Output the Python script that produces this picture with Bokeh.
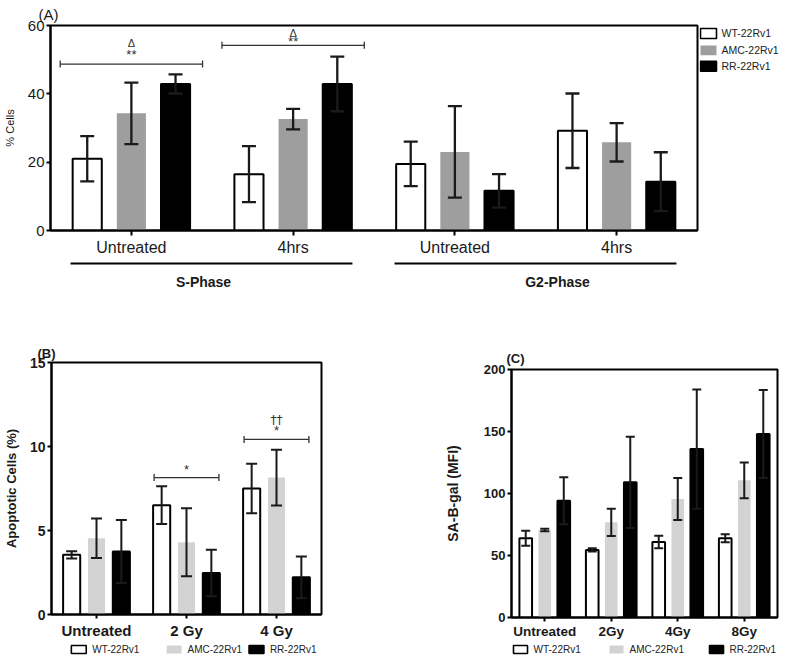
from bokeh.plotting import figure
from bokeh.layouts import column, row
from bokeh.models import (Range1d, FixedTicker, Title,
                          Whisker, TeeHead, ColumnDataSource)
from bokeh.core.properties import value
from bokeh.embed import file_html
from bokeh.resources import INLINE

FONT = "Liberation Sans"
INK = "#1a1a1a"

series_names = ["WT-22Rv1", "AMC-22Rv1", "RR-22Rv1"]

# ---------------- Panel A : cell cycle ----------------
a_categories = ["Untreated", "4hrs", "Untreated", "4hrs"]
a_phases = ["S-Phase", "G2-Phase"]
a_phase_first = [0, 2]
a_phase_last = [1, 3]
a_wt = [21.0, 16.5, 19.5, 29.2]
a_wt_err = [6.6, 8.2, 6.5, 10.9]
a_amc = [34.3, 32.6, 23.0, 25.8]
a_amc_err = [9.0, 3.0, 13.4, 5.6]
a_rr = [42.9, 42.9, 11.6, 14.3]
a_rr_err = [2.8, 8.0, 4.9, 8.6]
a_yticks = [0, 20, 40, 60]
a_sig_group = [0, 1]
a_sig_level = [48.7, 54.2]
a_star_level = [51.6, 55.4]
a_star_text = ["**", "**"]
a_delta_level = [54.8, 57.9]
a_delta_text = ["Δ", "Δ"]

# ---------------- Panel B : apoptosis ----------------
b_categories = ["Untreated", "2 Gy", "4 Gy"]
b_wt = [3.55, 6.51, 7.50]
b_wt_err = [0.22, 1.13, 1.47]
b_amc = [4.54, 4.30, 8.15]
b_amc_err = [1.17, 2.02, 1.66]
b_rr = [3.75, 2.47, 2.21]
b_rr_err = [1.87, 1.38, 1.24]
b_yticks = [0, 5, 10, 15]
b_sig_group = [1, 2]
b_sig_level = [8.15, 10.42]
b_star_level = [8.64, 10.97]
b_star_text = ["*", "*"]
b_dagger_group = [2]
b_dagger_level = [11.6]
b_dagger_text = ["††"]

# ---------------- Panel C : senescence ----------------
c_categories = ["Untreated", "2Gy", "4Gy", "8Gy"]
c_wt = [63.9, 54.5, 60.9, 63.9]
c_wt_err = [6.0, 1.3, 5.0, 3.2]
c_amc = [70.6, 76.8, 95.6, 110.6]
c_amc_err = [1.0, 11.0, 17.0, 14.5]
c_rr = [94.2, 109.0, 135.8, 147.9]
c_rr_err = [19.0, 36.8, 48.0, 35.5]
c_yticks = [0, 50, 100, 150, 200]

A_FILLS = ["white", "#9e9e9e", "black"]
BC_FILLS = ["white", "#d3d3d3", "black"]
LINES = ["black", None, "black"]

# layout (pixels)
A_W, A_H, A_L, A_R, A_T, A_B = 699, 258, 49, 2, 25, 27
KEY_W = 80
B_W, B_H, B_L, B_R, B_T, B_B = 400, 349, 49, 79, 70, 26
C_W, C_H, C_L, C_R, C_T, C_B = 379, 349, 111, 2, 77, 23
STRIP_H = 15


def base_fig(w, h, ncat, ymax, left, right, top, bottom):
    p = figure(width=w, height=h, output_backend="svg", toolbar_location=None,
               x_range=Range1d(-0.5, ncat - 0.5), y_range=Range1d(0, ymax),
               min_border_left=left, min_border_right=right,
               min_border_top=top, min_border_bottom=bottom)
    p.xgrid.visible = False
    p.ygrid.visible = False
    p.outline_line_color = "black"
    p.outline_line_width = 2
    p.outline_line_alpha = 1
    p.background_fill_color = "white"
    p.border_fill_color = "white"
    for ax in (p.xaxis[0], p.yaxis[0]):
        ax.axis_line_width = 2
        ax.axis_line_color = "black"
        ax.major_tick_line_width = 2
        ax.major_tick_line_color = "black"
        ax.major_tick_in = 0
        ax.minor_tick_line_color = None
        ax.major_label_text_font = FONT
        ax.major_label_text_color = INK
        ax.axis_label_text_font = FONT
        ax.axis_label_text_color = INK
        ax.axis_label_text_font_style = "normal"
    return p


def blank_strip(w, h, xr, yr, left=0, right=0):
    s = figure(width=w, height=h, output_backend="svg", toolbar_location=None,
               x_range=xr, y_range=yr,
               x_axis_location=None, y_axis_location=None,
               min_border_left=left, min_border_right=right,
               min_border_top=0, min_border_bottom=0)
    s.outline_line_color = None
    s.xgrid.visible = False
    s.ygrid.visible = False
    return s


def panel_title(p, text, size, offset, standoff, bold):
    p.add_layout(Title(text=text, align="left", offset=offset, standoff=standoff,
                       text_font=FONT, text_font_size=size, text_color=INK,
                       text_font_style="bold" if bold else "normal"), "above")


def add_bars(p, vals_list, errs_list, fills, lines, offset, width, cap, err_lw, bar_lw):
    for k, (vals, errs) in enumerate(zip(vals_list, errs_list)):
        xs = [g + (k - 1) * offset for g in range(len(vals))]
        src = ColumnDataSource(dict(x=xs, top=vals,
                                    upper=[v + e for v, e in zip(vals, errs)],
                                    lower=[v - e for v, e in zip(vals, errs)]))
        p.vbar(x="x", top="top", bottom=0, width=width, source=src,
               fill_color=fills[k], line_color=lines[k],
               line_width=bar_lw if lines[k] else 0)
        p.add_layout(Whisker(source=src, base="x", upper="upper", lower="lower",
                             line_width=err_lw, line_color=INK, level="overlay",
                             upper_head=TeeHead(size=cap, line_width=err_lw, line_color=INK),
                             lower_head=TeeHead(size=cap, line_width=err_lw, line_color=INK)))


def add_bracket(p, groups, levels, half, lw):
    src = ColumnDataSource(dict(y=levels, x0=[g - half for g in groups],
                                x1=[g + half for g in groups]))
    p.add_layout(Whisker(source=src, base="y", lower="x0", upper="x1",
                         dimension="width", line_width=lw, line_color="#333333",
                         level="overlay",
                         upper_head=TeeHead(size=7, line_width=lw, line_color="#333333"),
                         lower_head=TeeHead(size=7, line_width=lw, line_color="#333333")))


def add_marks(p, groups, levels, texts, size, font=FONT):
    p.text(x=groups, y=levels, text=texts, text_align="center",
           text_baseline="middle", text_font=value(font),
           text_font_size=size, text_color="#333333")


def draw_key(s, xs, ys, gw, gh, size, standoff, fills, lines):
    """legend swatches + series names; strip data units are pixels"""
    for name, fc, lc, x, y in zip(series_names, fills, lines, xs, ys):
        s.rect(x=[x + gw / 2], y=[y], width=gw, height=gh, fill_color=fc,
               line_color=lc, line_width=1.6 if lc else 0)
        s.text(x=[x + gw + standoff], y=[y], text=[name], text_align="left",
               text_baseline="middle", text_font=value(FONT), text_font_size=size,
               text_color="#222222")


# ================= Figure A =================
pA = base_fig(A_W, A_H, 4, 60, A_L, A_R, A_T, A_B)
add_bars(pA, [a_wt, a_amc, a_rr], [a_wt_err, a_amc_err, a_rr_err],
         A_FILLS, LINES, 0.273, 0.18, 14, 2.3, 2)
pA.yaxis[0].ticker = FixedTicker(ticks=a_yticks)
pA.xaxis[0].ticker = FixedTicker(ticks=list(range(len(a_categories))))
pA.xaxis[0].major_label_overrides = {i: c for i, c in enumerate(a_categories)}
pA.yaxis[0].major_label_text_font_size = "15px"
pA.xaxis[0].major_label_text_font_size = "16px"
pA.yaxis[0].major_tick_out = 4
pA.xaxis[0].major_tick_out = 5
pA.yaxis[0].major_label_standoff = 2
pA.xaxis[0].major_label_standoff = 3
pA.yaxis[0].axis_label = "% Cells"
pA.yaxis[0].axis_label_text_font_size = "11px"
pA.yaxis[0].axis_label_standoff = 9
add_bracket(pA, a_sig_group, a_sig_level, 0.44, 1.3)
add_marks(pA, a_sig_group, a_star_level, a_star_text, "13px")
add_marks(pA, a_sig_group, a_delta_level, a_delta_text, "11px")
panel_title(pA, "(A)", "15px", -12, 6, False)

# key for panel A, right of the frame (its frame shares panel A's vertical extent)
kA = blank_strip(KEY_W, A_H, Range1d(0, KEY_W), Range1d(A_H - A_B, A_T))
draw_key(kA, [1, 1, 1], [33, 50, 66], 16, 10, "10.5px", 5, A_FILLS, LINES)

# strip with phase groupings under panel A
sA = blank_strip(A_W, 34, pA.x_range, Range1d(0, 34), left=A_L, right=A_R)
sA.segment(x0=[f - 0.37 for f in a_phase_first], x1=[l + 0.37 for l in a_phase_last],
           y0=[29, 29], y1=[29, 29], line_width=2, line_color="black")
sA.text(x=[(f + l) / 2 for f, l in zip(a_phase_first, a_phase_last)], y=[11, 11],
        text=a_phases, x_offset=[-8, 22], text_align="center", text_baseline="middle",
        text_font=value(FONT), text_font_style="bold", text_font_size="14px",
        text_color=INK)

# ================= Figure B =================
pB = base_fig(B_W, B_H, 3, 15, B_L, B_R, B_T, B_B)
add_bars(pB, [b_wt, b_amc, b_rr], [b_wt_err, b_amc_err, b_rr_err],
         BC_FILLS, LINES, 0.276, 0.19, 11, 2, 2)
pB.yaxis[0].ticker = FixedTicker(ticks=b_yticks)
pB.xaxis[0].ticker = FixedTicker(ticks=list(range(len(b_categories))))
pB.xaxis[0].major_label_overrides = {i: c for i, c in enumerate(b_categories)}
for ax in (pB.xaxis[0], pB.yaxis[0]):
    ax.major_label_text_font_style = "bold"
pB.yaxis[0].major_label_text_font_size = "14px"
pB.xaxis[0].major_label_text_font_size = "15px"
pB.yaxis[0].major_tick_out = 4
pB.xaxis[0].major_tick_out = 4
pB.yaxis[0].major_label_standoff = 2
pB.xaxis[0].major_label_standoff = 3
pB.yaxis[0].axis_label = "Apoptotic Cells (%)"
pB.yaxis[0].axis_label_text_font_size = "13px"
pB.yaxis[0].axis_label_text_font_style = "bold"
pB.yaxis[0].axis_label_standoff = 8
add_bracket(pB, b_sig_group, b_sig_level, 0.36, 1.3)
add_marks(pB, b_sig_group, b_star_level, b_star_text, "13px")
add_marks(pB, b_dagger_group, b_dagger_level, b_dagger_text, "12px", "DejaVu Sans")
panel_title(pB, "(B)", "13px", -14, 3, True)
# key strip: its frame is aligned with panel B's frame
sB = blank_strip(B_W, STRIP_H, Range1d(B_L, B_W - B_R), Range1d(STRIP_H, 0))
draw_key(sB, [69, 165, 248], [8, 8, 8], 15, 8, "10px", 6, BC_FILLS, LINES)

# ================= Figure C =================
pC = base_fig(C_W, C_H, 4, 200, C_L, C_R, C_T, C_B)
add_bars(pC, [c_wt, c_amc, c_rr], [c_wt_err, c_amc_err, c_rr_err],
         BC_FILLS, LINES, 0.286, 0.19, 9, 2, 2)
pC.yaxis[0].ticker = FixedTicker(ticks=c_yticks)
pC.xaxis[0].ticker = FixedTicker(ticks=list(range(len(c_categories))))
pC.xaxis[0].major_label_overrides = {i: c for i, c in enumerate(c_categories)}
for ax in (pC.xaxis[0], pC.yaxis[0]):
    ax.major_label_text_font_style = "bold"
pC.yaxis[0].major_label_text_font_size = "13px"
pC.xaxis[0].major_label_text_font_size = "13.5px"
pC.yaxis[0].major_tick_out = 4
pC.xaxis[0].major_tick_out = 4
pC.yaxis[0].major_label_standoff = 2
pC.xaxis[0].major_label_standoff = 2
pC.yaxis[0].axis_label = "SA-B-gal (MFI)"
pC.yaxis[0].axis_label_text_font_size = "14px"
pC.yaxis[0].axis_label_text_font_style = "bold"
pC.yaxis[0].axis_label_standoff = 20
panel_title(pC, "(C)", "13px", -5, 8, True)
sC = blank_strip(C_W, STRIP_H, Range1d(C_L, C_W - C_R), Range1d(STRIP_H, 0))
draw_key(sC, [113, 209, 309], [8, 8, 8], 14, 8, "10px", 6, BC_FILLS, LINES)

layout = column(row(pA, kA), sA, row(column(pB, sB), column(pC, sC)))
open("out.html", "w").write(file_html(layout, INLINE))
